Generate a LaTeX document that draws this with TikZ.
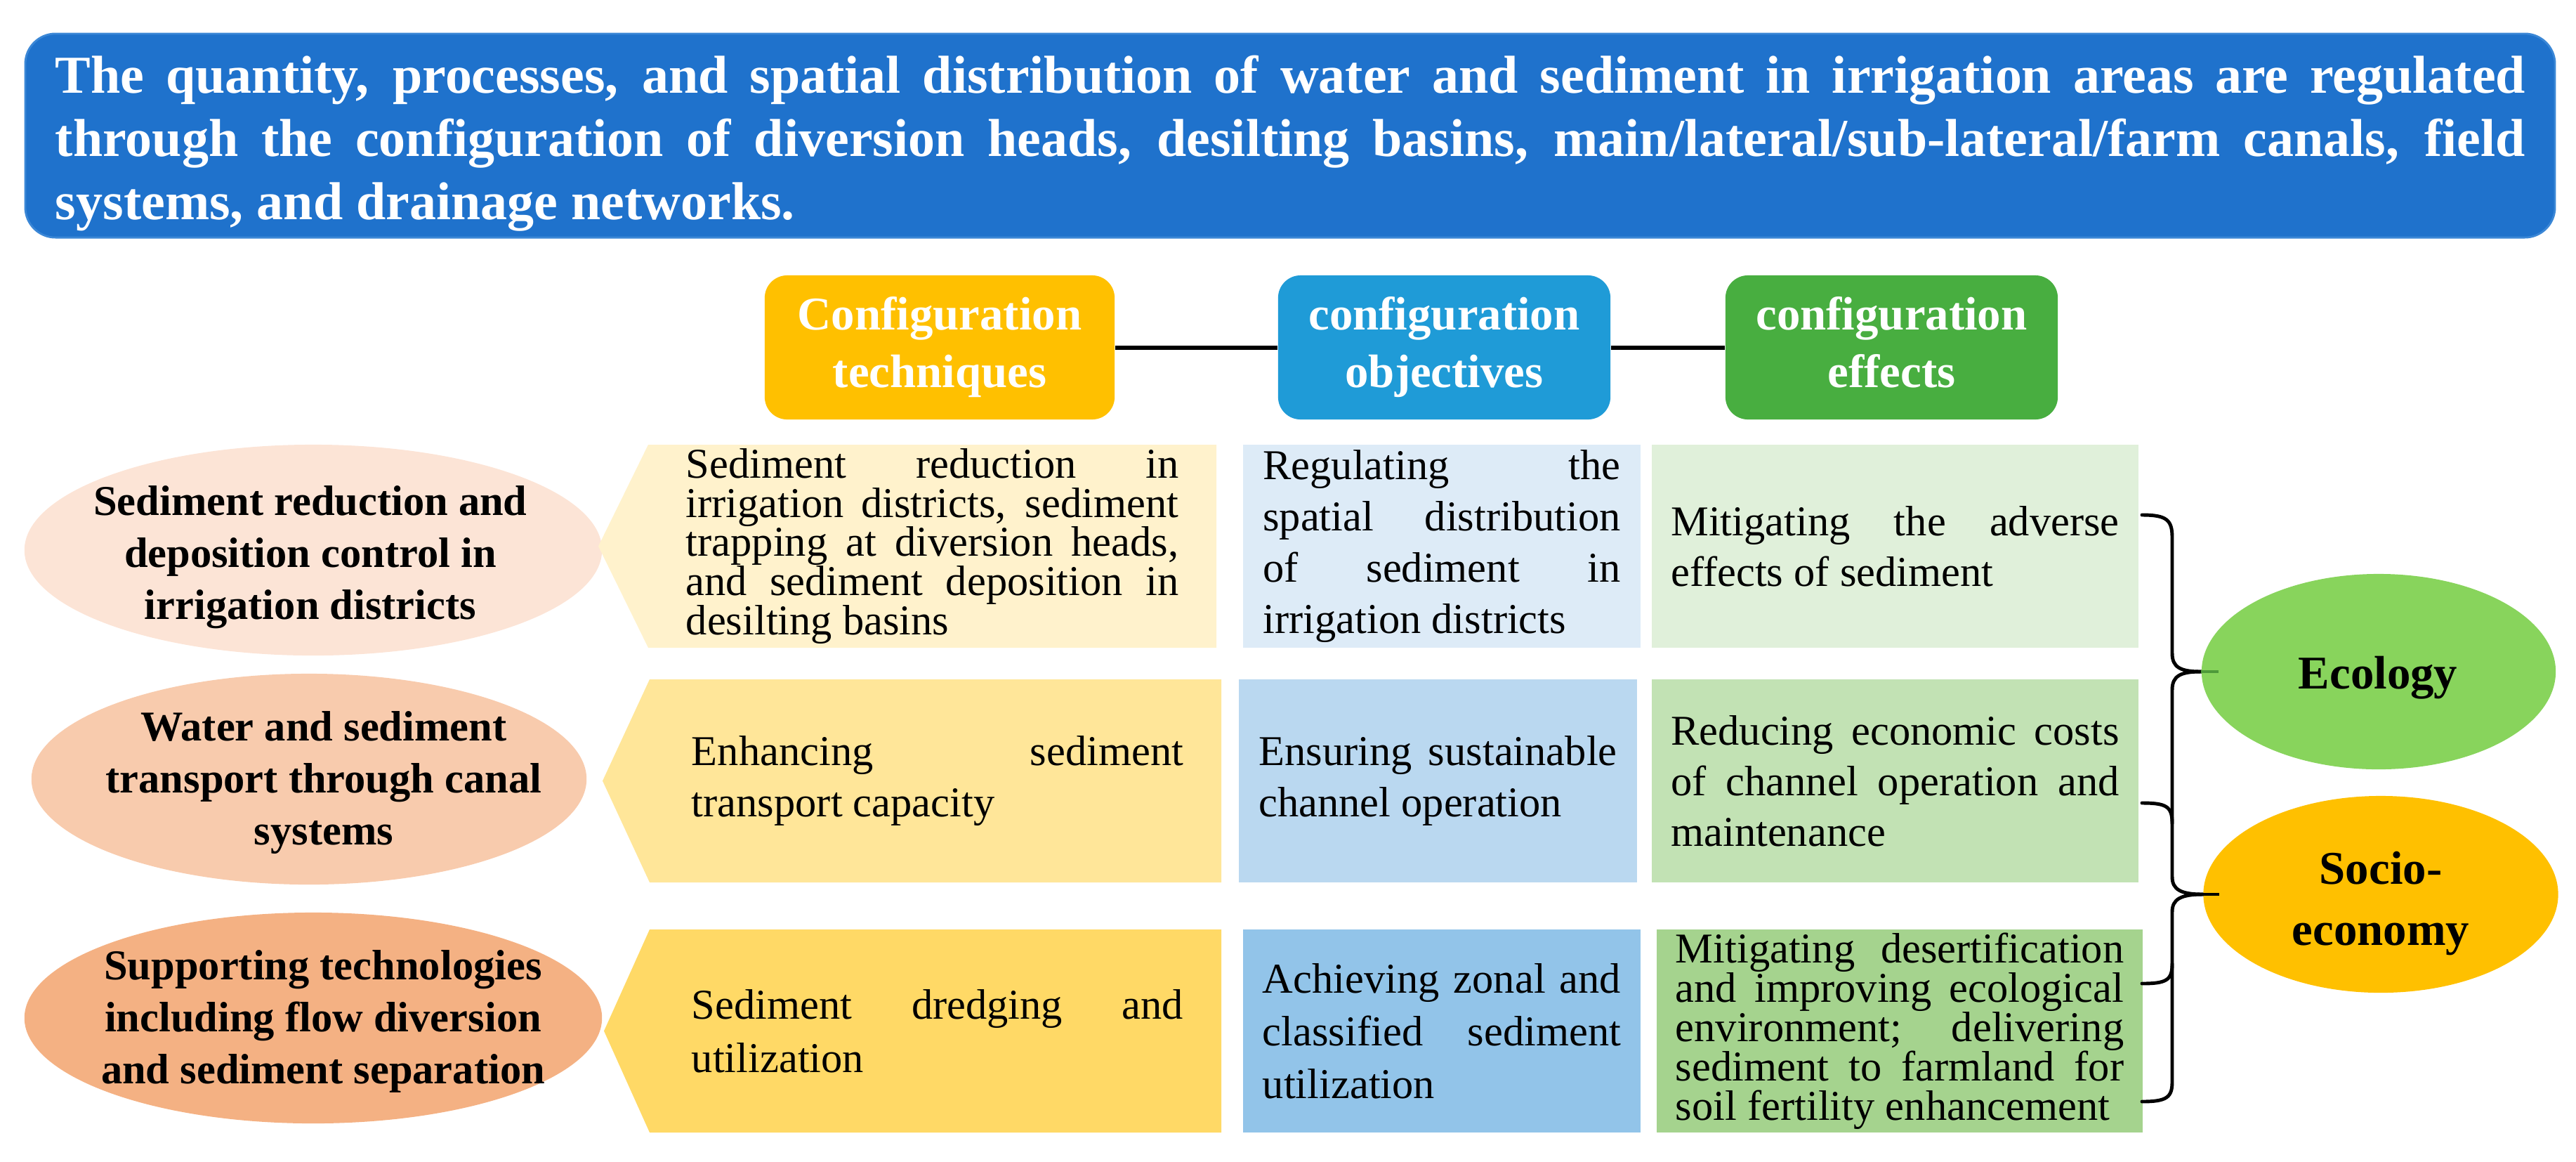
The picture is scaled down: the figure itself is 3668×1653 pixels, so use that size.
\documentclass[tikz,border=0pt]{standalone}
\usepackage{fontspec}
\setmainfont{Liberation Serif}
\usetikzlibrary{shapes.geometric}
\definecolor{bannerblue}{HTML}{1F72CC}
\definecolor{bannerline}{HTML}{3B87D6}
\definecolor{hgold}{HTML}{FFC000}
\definecolor{hblue}{HTML}{1F9BD7}
\definecolor{hgreen}{HTML}{48AE40}
\definecolor{or1}{HTML}{FCE4D6}
\definecolor{or2}{HTML}{F8CBAD}
\definecolor{or3}{HTML}{F4B183}
\definecolor{ye1}{HTML}{FFF2CC}
\definecolor{ye2}{HTML}{FFE699}
\definecolor{ye3}{HTML}{FFD966}
\definecolor{bl1}{HTML}{DDEBF7}
\definecolor{bl2}{HTML}{BAD8F0}
\definecolor{bl3}{HTML}{92C4E9}
\definecolor{gr1}{HTML}{E0F0DA}
\definecolor{gr2}{HTML}{C2E2B4}
\definecolor{gr3}{HTML}{A5D38E}
\definecolor{ecog}{HTML}{88D45C}
\definecolor{ecodark}{HTML}{4E9A3A}
\newcommand\nohyph{\hyphenpenalty10000 \exhyphenpenalty10000 \hbadness10000 }
\begin{document}
\begin{tikzpicture}[x=0.01cm,y=-0.01cm,
  hdr/.style={rectangle, rounded corners=0.32cm, minimum height=2.05cm, inner sep=0pt,
    text=white, align=center, font={\bfseries\fontsize{19pt}{23.3pt}\selectfont}},
  conn/.style={line width=1.7pt},
  brace/.style={line width=1.4pt, line cap=round},
  oval/.style={ellipse, inner sep=0pt},
  etext/.style={inner sep=0pt, align=center, font={\bfseries\fontsize{17.2pt}{21pt}\selectfont}},
  rtext/.style={inner sep=0pt, align=center, font={\bfseries\fontsize{19pt}{24.5pt}\selectfont}},
  cell/.style={rectangle, inner sep=0pt, minimum height=2.89cm, align=justify},
  ptext/.style={inner sep=0pt, align=justify},
  fs/.style={font={\nohyph\fontsize{17.2pt}{#1}\selectfont}}
]
\useasboundingbox (0,0) rectangle (3668,1653);

% banner
\node[rectangle, rounded corners=0.43cm, fill=bannerblue, draw=bannerline, line width=0.8pt,
  minimum width=36cm, minimum height=2.9cm, inner sep=0pt] (title) at (1837,193) {};
\node[text=white, text width=35.15cm, align=justify, inner sep=0pt,
  font={\nohyph\bfseries\fontsize{21.6pt}{25.6pt}\selectfont}] (titletext) at (1837.5,204.5)
  {The quantity, processes, and spatial distribution of water and sediment in irrigation areas are regulated\linebreak
   through the configuration of diversion heads, desilting basins, main/lateral/sub-lateral/farm canals, field\linebreak
   systems, and drainage networks.};

% headers
\node[hdr, fill=hgold, minimum width=4.98cm] (h1) at (1338,494.5) {Configuration\\techniques};
\node[hdr, fill=hblue, minimum width=4.73cm] (h2) at (2056.5,494.5) {configuration\\objectives};
\node[hdr, fill=hgreen, minimum width=4.73cm] (h3) at (2693.5,494.5) {configuration\\effects\vphantom{q}};
\draw[conn] (h1) -- (h2);
\draw[conn] (h2) -- (h3);

% left ellipses
\node[oval, fill=or1, minimum width=8.22cm, minimum height=3.0cm] (e1) at (446,783) {};
\node[etext] (e1t) at (442,793) {Sediment reduction and\\deposition control in\\irrigation districts};
\node[oval, fill=or2, minimum width=7.9cm, minimum height=3.0cm] (e2) at (440,1109) {};
\node[etext] (e2t) at (461,1114) {Water and sediment\\transport through canal\\systems};
\node[oval, fill=or3, minimum width=8.22cm, minimum height=3.0cm] (e3) at (446,1449) {};
\node[etext] (e3t) at (460,1454) {Supporting technologies\\including flow diversion\\and sediment separation};

% pentagons (configuration techniques)
\fill[ye1] (923,633) -- (1732,633) -- (1732,922) -- (923,922) -- (852,777.5) -- cycle;
\node[ptext, text width=7.01cm, fs=15.9pt] (p1) at (1327.5,777.5)
  {Sediment reduction in\linebreak irrigation districts, sediment\linebreak trapping at diversion heads,\linebreak and sediment deposition in\linebreak desilting basins};
\fill[ye2] (925,967) -- (1739,967) -- (1739,1256) -- (925,1256) -- (858,1111.5) -- cycle;
\node[ptext, text width=7.0cm, fs=20.5pt] (p2) at (1335,1111.5)
  {Enhancing sediment\linebreak transport capacity};
\fill[ye3] (925,1323) -- (1739,1323) -- (1739,1612) -- (925,1612) -- (860,1467.5) -- cycle;
\node[ptext, text width=7.0cm, fs=21.6pt] (p3) at (1335,1467.5)
  {Sediment dredging and\linebreak utilization};

% objectives
\node[cell, fill=bl1, minimum width=5.66cm, text width=5.09cm, fs=20.8pt] (b1) at (2053,777.5)
  {Regulating the\linebreak spatial distribution\linebreak of sediment in\linebreak irrigation districts};
\node[cell, fill=bl2, minimum width=5.67cm, text width=5.10cm, fs=21pt] (b2) at (2047.5,1111.5)
  {Ensuring sustainable\linebreak channel operation};
\node[cell, fill=bl3, minimum width=5.66cm, text width=5.10cm, fs=21.3pt] (b3) at (2053,1467.5)
  {Achieving zonal and\linebreak classified sediment\linebreak utilization};

% effects
\node[cell, fill=gr1, minimum width=6.93cm, text width=6.38cm, fs=20.5pt] (g1) at (2698.5,777.5)
  {Mitigating the adverse\linebreak effects of sediment};
\node[cell, fill=gr2, minimum width=6.93cm, text width=6.38cm, fs=20.5pt] (g2) at (2698.5,1111.5)
  {Reducing economic costs\linebreak of channel operation and\linebreak maintenance};
\node[cell, fill=gr3, minimum width=6.92cm, text width=6.38cm, fs=15.9pt] (g3) at (2705,1467.5)
  {Mitigating desertification\linebreak and improving ecological\linebreak environment; delivering\linebreak sediment to farmland for\linebreak soil fertility enhancement};

% right ellipses
\node[oval, fill=ecog, minimum width=5.04cm, minimum height=2.78cm] (eco) at (3387,956) {};
\node[rtext] (ecot) at (3386,965) {Ecology};
\node[oval, fill=hgold, minimum width=5.05cm, minimum height=2.8cm] (soc) at (3390,1273) {};
\node[rtext] (soct) at (3390,1286) {Socio-\\economy};

% bracket
\coordinate (k1) at (3050,733);
\coordinate (k2) at (3050,1143);
\coordinate (k3) at (3050,1400);
\coordinate (k4) at (3050,1568);
\draw[brace] (k1) .. controls (3085,733) and (3093,740) .. (3093,765) -- (3093,930)
  .. controls (3093,950) and (3105,956) .. (eco.west);
\draw[brace] (eco.west) .. controls (3105,956) and (3093,962) .. (3093,982) -- (3093,1248)
  .. controls (3093,1266) and (3105,1273) .. (soc.west);
\draw[brace] (soc.west) .. controls (3105,1273) and (3093,1280) .. (3093,1298) -- (3093,1540)
  .. controls (3093,1562) and (3085,1568) .. (k4);
\draw[brace] (k2) .. controls (3085,1143) and (3093,1148) .. (3093,1172);
\draw[brace] (k3) .. controls (3085,1400) and (3093,1395) .. (3093,1372);
\draw[line width=1.4pt, ecodark] (eco.west) -- ++(25,0);
\draw[line width=1.4pt] (soc.west) -- ++(23,0);
\end{tikzpicture}
\end{document}
